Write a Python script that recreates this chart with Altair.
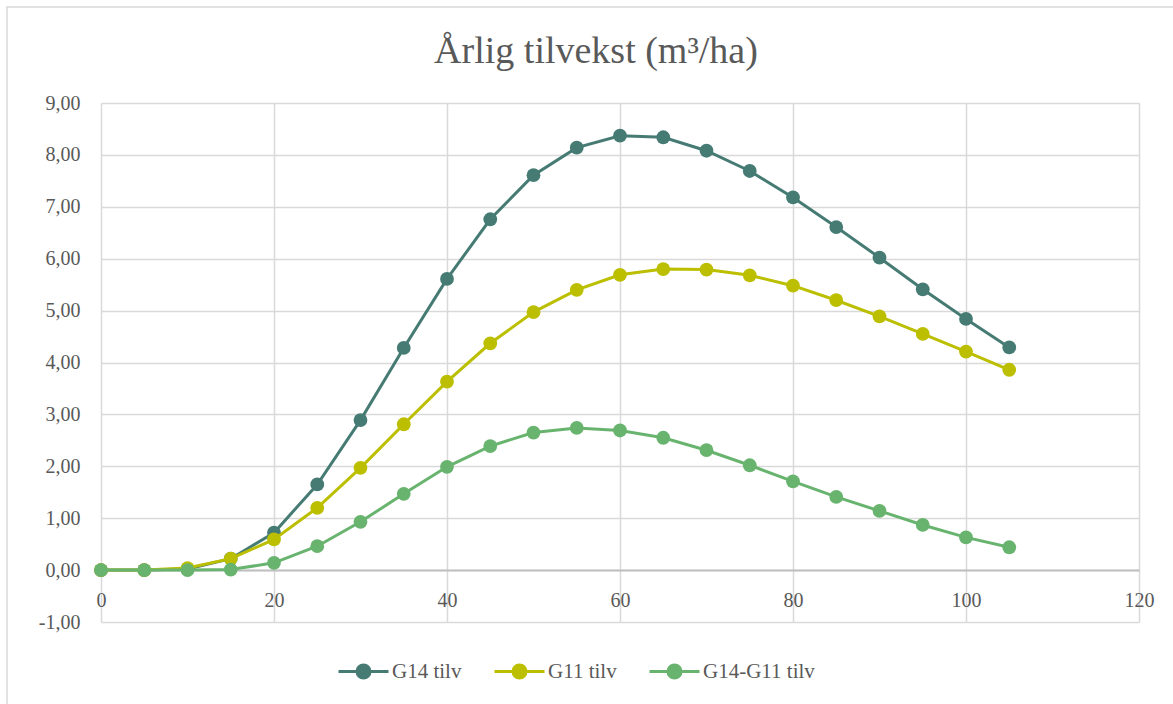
import altair as alt
import pandas as pd

# Stand age (years)
ages = [0, 5, 10, 15, 20, 25, 30, 35, 40, 45, 50,
        55, 60, 65, 70, 75, 80, 85, 90, 95, 100, 105]

# Annual increment (m3/ha) per series
g14_tilv = [0.00, 0.00, 0.02, 0.22, 0.72, 1.65, 2.89, 4.28, 5.61, 6.76, 7.61,
            8.14, 8.37, 8.34, 8.08, 7.69, 7.18, 6.61, 6.02, 5.41, 4.84, 4.29]
g11_tilv = [0.00, 0.00, 0.04, 0.22, 0.59, 1.20, 1.97, 2.81, 3.63, 4.37, 4.97,
            5.40, 5.69, 5.80, 5.79, 5.68, 5.48, 5.20, 4.89, 4.55, 4.21, 3.86]
diff_tilv = [0.00, 0.00, 0.00, 0.01, 0.14, 0.46, 0.93, 1.47, 1.99, 2.39, 2.65,
             2.74, 2.69, 2.55, 2.31, 2.02, 1.71, 1.41, 1.14, 0.87, 0.63, 0.44]

series_names = ["G14 tilv", "G11 tilv", "G14-G11 tilv"]
series_values = [g14_tilv, g11_tilv, diff_tilv]
series_colors = ["#467B74", "#BBBF00", "#68B46F"]

y_ticks = [-1, 0, 1, 2, 3, 4, 5, 6, 7, 8, 9]
x_ticks = [0, 20, 40, 60, 80, 100, 120]

title_text = "Årlig tilvekst (m³/ha)"

FONT = "Liberation Serif"
TEXT = "#595959"
GRID = "#D9D9D9"

rows = []
for name, vals in zip(series_names, series_values):
    for a, v in zip(ages, vals):
        rows.append({"alder": a, "tilvekst": v, "serie": name})
df = pd.DataFrame(rows)

color_scale = alt.Scale(domain=series_names, range=series_colors)

legend = alt.Legend(
    title=None,
    orient="none",
    legendX=236,
    legendY=542,
    direction="horizontal",
    symbolType="M-1,0L-0.26,0M0.26,0L1,0M-0.26,0A0.26,0.26 0 1,1 0.26,0A0.26,0.26 0 1,1 -0.26,0Z",
    symbolSize=2500,
    symbolStrokeWidth=3,
    symbolOffset=0,
    labelFont=FONT,
    labelFontSize=21,
    labelColor=TEXT,
    labelOffset=2,
    columnPadding=26,
    values=series_names,
)

x_enc = alt.X(
    "alder:Q",
    scale=alt.Scale(domain=[0, 120], nice=False, zero=False),
    axis=alt.Axis(
        values=x_ticks, title=None, grid=True, gridColor=GRID, gridWidth=1.5,
        domain=True, domainColor="#BFBFBF", domainWidth=2, ticks=False,
        offset=-52, labelPadding=20, labelFont=FONT, labelFontSize=20,
        labelColor=TEXT, labelFlush=False, labelExpr="datum.value",
    ),
)
y_enc = alt.Y(
    "tilvekst:Q",
    scale=alt.Scale(domain=[-1, 9], nice=False, zero=False),
    axis=alt.Axis(
        values=y_ticks, title=None, grid=True, gridColor=GRID, gridWidth=1.5,
        domain=False, ticks=False, labelPadding=21, labelFont=FONT,
        labelFontSize=20, labelColor=TEXT,
        labelExpr="replace(replace(format(datum.value, '.2f'), '.', ','), '\u2212', '-')",
    ),
)

layers = []
for i, name in enumerate(series_names):
    sub = alt.Chart(df).transform_filter(alt.datum.serie == name)
    line = sub.mark_line(strokeWidth=3).encode(
        x=x_enc, y=y_enc,
        color=alt.Color("serie:N", scale=color_scale, legend=legend if i == 0 else None),
    )
    pts = sub.mark_circle(size=190, opacity=1).encode(
        x=x_enc, y=y_enc,
        color=alt.Color("serie:N", scale=color_scale, legend=None),
    )
    layers += [line, pts]

# Light frame around the whole chart area
frame = alt.Chart(pd.DataFrame({"k": [0]})).mark_rect(
    fill=None, stroke="#D9D9D9", strokeWidth=1.5
).encode(
    x=alt.value(-94), x2=alt.value(1079), y=alt.value(-96), y2=alt.value(612)
)

# Chart heading
heading = alt.Chart(pd.DataFrame({"t": [title_text]})).mark_text(
    font=FONT, fontSize=38, color=TEXT, align="center", baseline="alphabetic"
).encode(
    text="t:N", x=alt.value(495), y=alt.value(-40)
)

chart = alt.layer(frame, heading, *layers).properties(
    width=1038,
    height=519,
    autosize=alt.AutoSizeParams(type="none"),
    padding={"left": 101, "top": 103, "right": 34, "bottom": 82},
    background="white",
).configure_view(stroke=None).configure_legend(
    symbolFillColor="transparent"
)

chart.save("out.html", embed_options={"renderer": "svg", "actions": False})
